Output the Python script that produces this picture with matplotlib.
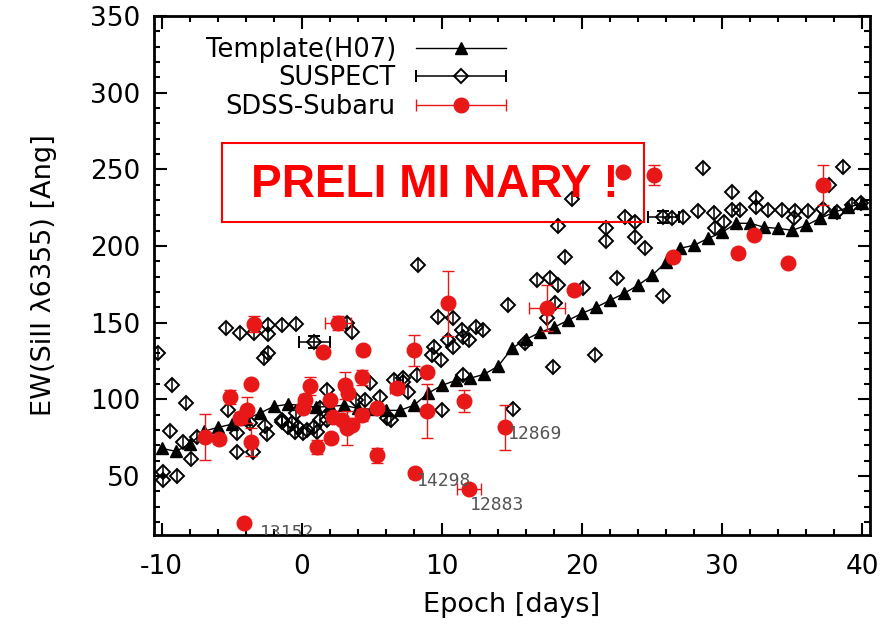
import matplotlib
matplotlib.use('Agg')
import matplotlib.pyplot as plt
from matplotlib.container import ErrorbarContainer
from matplotlib.legend_handler import HandlerErrorbar
from matplotlib.patches import Rectangle
from matplotlib.ticker import MultipleLocator
import numpy as np

plt.rcParams['axes.unicode_minus'] = False

# Template (H07), one point per day
template_epoch = [-10, -9, -8, -7, -6, -5, -4, -3, -2, -1, 0, 1, 2, 3, 4, 5, 6, 7, 8, 9,
                  10, 11, 12, 13, 14, 15, 16, 17, 18, 19, 20, 21, 22, 23, 24, 25, 26, 27, 28, 29,
                  30, 31, 32, 33, 34, 35, 36, 37, 38, 39, 40]
template_ew = [68.0, 66.1, 70.6, 79.1, 81.7, 83.7, 87.0, 90.9, 95.4, 96.7, 96.1, 94.8, 95.4, 96.1, 94.1, 93.5, 92.8, 92.8, 96.1, 103.9,
               109.1, 112.4, 113.7, 116.3, 121.5, 133.3, 139.1, 143.7, 147.0, 151.5, 156.1, 160.0, 164.6, 169.1, 174.4, 180.9, 189.4, 198.5, 200.5, 205.0,
               208.9, 214.8, 214.8, 212.2, 211.5, 210.2, 213.5, 218.1, 222.0, 225.2, 227.9]

# SUSPECT measurements
suspect_epoch = [-10.3, -5.4, -4.4, -3.4, -2.4, -2.4, -1.4, -0.4, -2.7, -2.4, 3.2, 3.6,
                 -9.3, -8.3, -5.3, -9.4, -8.5, -7.9, -9.9, -9.9, -8.9, -7.5, -4.6, -3.5,
                 -4.6, -3.7, -2.6, -2.5, -1.4, -1.0, -0.5, 0.1, 1.1, -0.4, 1.8, 1.8, 1.3,
                 4.5, 4.9, 5.6, 6.1, 6.4, 6.6, 7.2, 3.9, -1.4, -0.7, -0.3, 0.4, 0.9, 1.3,
                 8.3, 14.7, 9.7, 10.8, 11.4, 12.4, 12.9, 11.5, 11.9, 10.4, 10.8, 9.4, 9.3,
                 9.9, 11.5, 7.2, 7.6, 8.2, 10.0, 15.1, 15.9,
                 19.3, 18.3, 21.7, 21.7, 23.1, 23.8, 23.8, 24.5, 18.8, 22.5, 16.8, 17.7,
                 18.3, 20.1, 18.1, 17.5, 25.8, 20.9, 17.9,
                 28.6, 30.7, 32.4, 38.6, 37.6, 26.4, 27.2, 28.3, 29.4, 29.5, 30.1, 30.7,
                 31.3, 32.4, 33.3, 34.3, 35.2, 35.1, 36.1, 37.2, 38.2, 39.3, 39.9]
suspect_ew = [130.0, 146.3, 143.1, 143.1, 148.3, 142.4, 148.3, 148.9, 126.7, 130.0, 149.6, 143.7,
              109.1, 97.4, 92.8, 79.1, 72.0, 60.9, 52.4, 47.2, 49.8, 75.2, 65.4, 65.4,
              77.8, 84.3, 82.4, 77.2, 85.0, 81.7, 78.5, 77.8, 78.5, 90.9, 86.3, 105.9, 94.1,
              99.3, 110.4, 101.3, 87.6, 86.3, 112.4, 113.7, 99.3, 86.3, 84.3, 81.7, 79.8, 81.7, 86.3,
              187.4, 161.3, 153.5, 152.8, 145.0, 147.0, 145.0, 140.4, 138.5, 138.5, 133.9, 133.9, 128.7,
              125.4, 115.7, 111.1, 104.6, 115.7, 92.8, 93.5, 136.5,
              230.5, 212.9, 211.5, 203.1, 218.7, 215.5, 205.7, 198.5, 192.6, 178.9, 177.6, 178.9,
              174.4, 172.4, 162.6, 152.8, 167.2, 128.7, 120.9,
              250.7, 235.0, 231.1, 251.3, 239.6, 218.1, 218.7, 222.6, 221.3, 211.5, 215.5, 223.3,
              223.3, 225.2, 223.3, 223.3, 222.6, 218.1, 222.6, 223.9, 222.0, 226.5, 227.9]
suspect_yerr = 4.0

# SUSPECT points with an epoch uncertainty
suspect_t_epoch = [0.9, 25.8]
suspect_t_ew = [137.2, 218.7]
suspect_t_xerr = [1.13, 1.1]

# SDSS-Subaru
sdss_epoch = [-3.4, -3.6, -5.1, -3.9, -4.4, -3.6, -6.9, -5.9, -4.1,
              2.6, 1.5, 4.4, 0.6, 0.2, 0.1, 3.1, 2.0, 3.3, 4.3, 2.2, 2.9, 3.2, 3.6,
              1.1, 2.1, 4.3, 5.4, 5.4, 6.8,
              10.4, 8.0, 8.9, 8.9, 11.6, 14.5, 8.1, 11.9,
              22.9, 25.1, 19.4, 17.5, 26.5, 31.1, 32.3, 34.7, 37.2]
sdss_ew = [148.9, 109.8, 101.3, 92.8, 87.6, 72.0, 75.2, 73.9, 19.1,
           149.6, 130.7, 132.0, 108.5, 99.3, 94.1, 109.1, 99.3, 103.9, 114.4, 88.3, 86.3, 81.1, 83.0,
           68.7, 74.6, 89.6, 94.1, 63.5, 107.2,
           162.6, 132.0, 117.6, 92.2, 98.7, 81.7, 51.7, 41.3,
           248.1, 246.1, 171.1, 159.4, 192.6, 195.2, 207.0, 188.7, 239.6]
sdss_yerr = [5.2, 0.0, 4.6, 8.5, 4.0, 9.0, 15.0, 3.0, 0.0,
             4.6, 0.0, 3.0, 6.0, 4.0, 0.0, 9.0, 0.0, 0.0, 5.0, 0.0, 0.0, 11.0, 0.0,
             4.5, 3.0, 4.0, 3.0, 5.0, 3.0,
             21.0, 10.0, 3.0, 17.5, 7.3, 14.5, 3.0, 2.0,
             0.0, 6.6, 3.0, 15.0, 0.0, 3.0, 0.0, 0.0, 13.0]
sdss_xerr = [0.0, 0.0, 0.0, 0.0, 0.0, 0.0, 0.0, 0.0, 0.0,
             0.93, 0.0, 0.0, 0.0, 0.0, 0.0, 0.0, 0.0, 0.0, 0.0, 0.0, 0.0, 0.0, 0.0,
             0.0, 0.0, 0.0, 0.0, 0.0, 0.5,
             0.0, 0.0, 0.0, 0.0, 0.0, 0.0, 0.0, 0.86,
             0.0, 0.0, 0.0, 1.3, 0.0, 0.0, 0.0, 0.0, 0.0]

# SN names written next to outliers
sn_names = ['12869', '14298', '12883', '13152']
sn_label_x = [14.7, 8.2, 12.0, -3.0]
sn_label_y = [77.2, 46.5, 30.9, 12.6]

red = '#e81818'

fig = plt.figure(figsize=(8.96, 6.28), dpi=100)
ax = fig.add_axes([154/896, 1-535/628, 716/896, 519/628])

ax.errorbar(suspect_epoch, suspect_ew, yerr=suspect_yerr, fmt='D', ms=7.5, mfc='none',
            mec='k', mew=1.4, ecolor='k', elinewidth=1.1, capsize=0, zorder=2)
ax.errorbar(suspect_t_epoch, suspect_t_ew, xerr=suspect_t_xerr, yerr=suspect_yerr, fmt='D', ms=7.5,
            mfc='none', mec='k', mew=1.4, ecolor='k', elinewidth=1.1, capsize=4, zorder=2)
ax.plot(template_epoch, template_ew, '-^', color='k', lw=1.0, ms=8, zorder=3)
ax.errorbar(sdss_epoch, sdss_ew, yerr=sdss_yerr, xerr=sdss_xerr, fmt='o', ms=10.5, color=red,
            mec=red, ecolor=red, elinewidth=1.0, capsize=4, zorder=4)

for name, lx, ly in zip(sn_names, sn_label_x, sn_label_y):
    ax.text(lx, ly, name, family='DejaVu Sans Mono', fontsize=13, color='#555555',
            va='center', ha='left', clip_on=True, zorder=5)

# legend proxies (horizontal bars only)
h_t, = ax.plot([np.nan], [np.nan], '-^', color='k', lw=1.0, ms=8)
h_s = ax.errorbar([np.nan], [np.nan], xerr=[1], fmt='D', ms=7.5, mfc='none', mec='k', mew=1.4,
                  ecolor='k', elinewidth=1.1, capsize=4)
h_d = ax.errorbar([np.nan], [np.nan], xerr=[1], fmt='o', ms=10.5, color=red, mec=red,
                  ecolor=red, elinewidth=1.0, capsize=4)
leg = ax.legend([h_t, h_s, h_d], ['Template(H07)', 'SUSPECT', 'SDSS-Subaru'],
                loc='upper right', bbox_to_anchor=(0.51, 0.985), frameon=False,
                markerfirst=False, numpoints=1, handlelength=3.5, handletextpad=0.8,
                labelspacing=0.1, borderpad=0, fontsize=18.5,
                handler_map={ErrorbarContainer: HandlerErrorbar(xerr_size=1.75)})

# preliminary stamp
ax.add_patch(Rectangle((0.095, 0.603), 0.589, 0.152, transform=ax.transAxes, fill=False,
                       edgecolor='red', lw=1.5, zorder=6))
ax.text(0.392, 0.675, 'PRELI MI NARY !', transform=ax.transAxes, ha='center', va='center',
        family='Liberation Sans', fontweight='bold', fontsize=33, color='red', zorder=6)

ax.set_xlim(-10.55, 40.55)
ax.set_ylim(11.5, 350)
ax.xaxis.set_major_locator(MultipleLocator(10))
ax.xaxis.set_minor_locator(MultipleLocator(2))
ax.yaxis.set_major_locator(MultipleLocator(50))
ax.yaxis.set_minor_locator(MultipleLocator(10))
ax.tick_params(which='both', direction='in', top=True, right=True, width=1.5)
ax.tick_params(which='major', length=9, labelsize=19)
ax.tick_params(axis='x', which='major', pad=14)
ax.tick_params(axis='y', which='major', pad=10)
ax.tick_params(which='minor', length=4.5)
for s in ax.spines.values():
    s.set_linewidth(2)

ax.set_xlabel('Epoch [days]', fontsize=19.5, labelpad=8)
ax.set_ylabel('EW(SiII λ6355) [Ang]', fontsize=19.5, labelpad=24)

fig.savefig('out.png', dpi=100)
